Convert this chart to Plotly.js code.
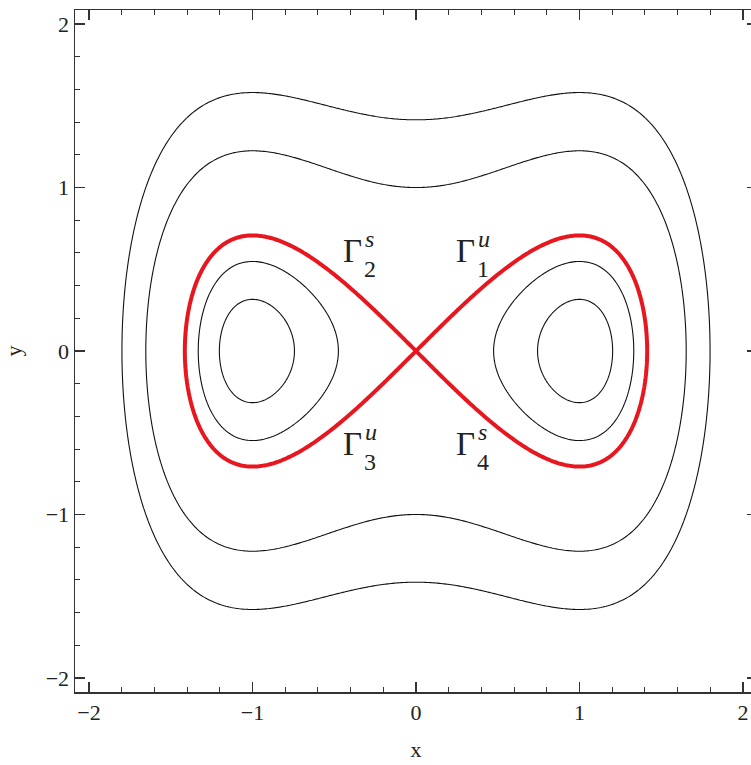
<!DOCTYPE html>
<html>
<head>
<meta charset="utf-8">
<script src="https://cdn.plot.ly/plotly-3.0.1.min.js"></script>
<style>
  html, body { margin: 0; padding: 0; overflow: hidden; background: #fff; }
  #plot { width: 760px; height: 765px; }
</style>
</head>
<body>
<div id="plot"></div>
<script>
// Phase portrait of the unforced, undamped Duffing oscillator:
//   H(x, y) = y^2/2 - x^2/2 + x^4/4
// Energy levels of the drawn orbits
const innerLevels = [-0.2, -0.1];   // periodic orbits around the two centres
const outerLevels = [0.5, 1.0];     // orbits enclosing both wells
const separatrixLevel = 0;          // homoclinic figure-eight through the saddle

// Branch labels of the separatrix: [x, y, base, superscript, subscript]
const branchLabels = [
  [-0.39,  0.61, 'Γ', 's', '2'],
  [ 0.30,  0.61, 'Γ', 'u', '1'],
  [-0.39, -0.57, 'Γ', 'u', '3'],
  [ 0.30, -0.57, 'Γ', 's', '4']
];

const tickVals = [-2, -1, 0, 1, 2];

// Sampling grid for the energy surface
const N = 400;
const gx = [], gy = [];
for (let i = 0; i < N; i++) {
  gx.push(-2.1 + 4.2 * i / (N - 1));
  gy.push(-2.1 + 4.2 * i / (N - 1));
}
const H = (x, y) => 0.5 * y * y - 0.5 * x * x + 0.25 * x * x * x * x;
const gz = gy.map(y => gx.map(x => H(x, y)));

function levelTrace(level, color, width) {
  return {
    type: 'contour', x: gx, y: gy, z: gz,
    showscale: false, hoverinfo: 'skip',
    contours: { coloring: 'none', start: level, end: level, size: 1, showlines: true },
    line: { color: color, width: width, smoothing: 0 }
  };
}

const traces = [];
innerLevels.concat(outerLevels).forEach(L => traces.push(levelTrace(L, '#111', 1.1)));
traces.push(levelTrace(separatrixLevel, '#e8161e', 4));

const serif = "'Liberation Serif', 'Times New Roman', Times, serif";
const annotations = [];
branchLabels.forEach(([x, y, base, sup, sub]) => {
  annotations.push({ x: x, y: y, xref: 'x', yref: 'y', text: base, showarrow: false,
    xanchor: 'center', yanchor: 'middle', font: { family: serif, size: 33, color: '#222' } });
  annotations.push({ x: x, y: y, xref: 'x', yref: 'y', text: '<i>' + sup + '</i>', showarrow: false,
    xanchor: 'left', yanchor: 'bottom', xshift: 11, yshift: -3, font: { family: serif, size: 24, color: '#222' } });
  annotations.push({ x: x, y: y, xref: 'x', yref: 'y', text: sub, showarrow: false,
    xanchor: 'left', yanchor: 'top', xshift: 10, yshift: -3, font: { family: serif, size: 24, color: '#222' } });
});

const axisCommon = {
  range: [-2.086, 2.086],
  tickvals: tickVals,
  ticks: 'inside', ticklen: 10, tickwidth: 1.2, tickcolor: '#333',
  minor: { dtick: 0.2, ticks: 'inside', ticklen: 5, tickwidth: 1.1, tickcolor: '#333' },
  showline: true, linecolor: '#333', linewidth: 1.5, mirror: 'ticks',
  showgrid: false, zeroline: false,
  tickfont: { family: serif, size: 22, color: '#222' },
  automargin: false, fixedrange: true
};

const layout = {
  width: 760, height: 765,
  margin: { l: 75, r: 3, t: 10, b: 73 },
  paper_bgcolor: '#fff', plot_bgcolor: '#fff',
  showlegend: false,
  xaxis: Object.assign({}, axisCommon, {
    title: { text: 'x', font: { family: serif, size: 22, color: '#222' }, standoff: 17 }
  }),
  yaxis: Object.assign({}, axisCommon, {
    title: { text: 'y', font: { family: serif, size: 22, color: '#222' }, standoff: 18 }
  }),
  annotations: annotations
};

Plotly.newPlot('plot', traces, layout, { staticPlot: true, displayModeBar: false });
</script>
</body>
</html>
